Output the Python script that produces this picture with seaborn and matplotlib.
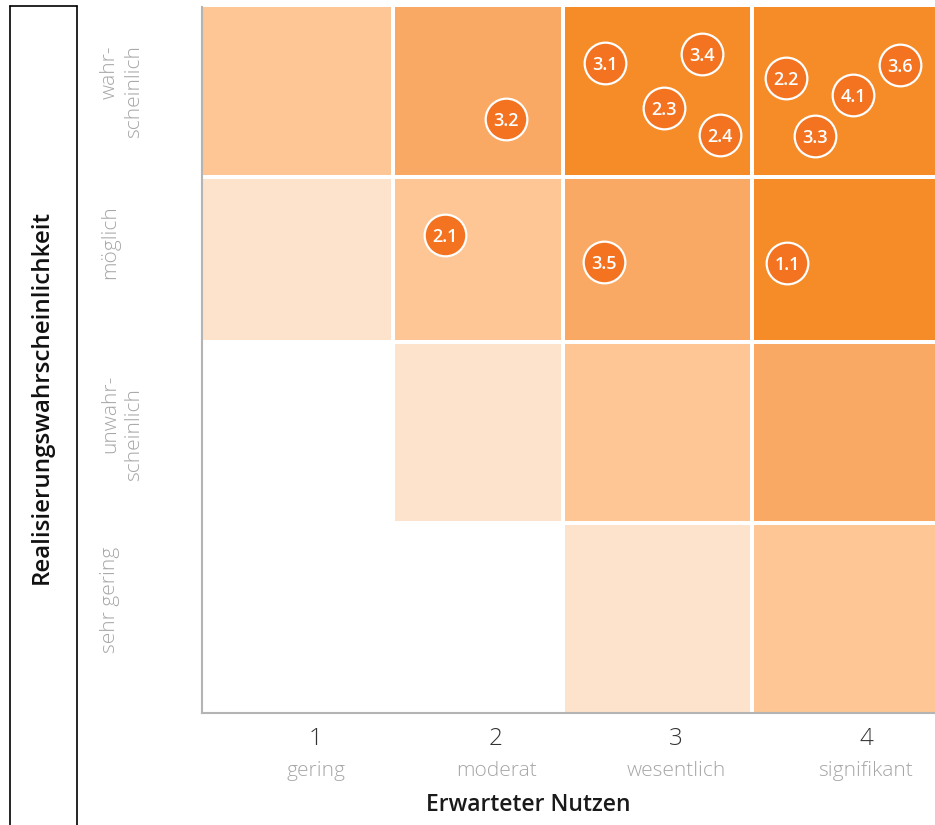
#!/usr/bin/env python3

import numpy as np
import pandas as pd
import matplotlib.pyplot as plt
from matplotlib.colors import ListedColormap
from matplotlib.lines import Line2D
import seaborn as sns

# x: erwarteter Nutzen, y: Realisierungswahrscheinlichkeit
nutzen_nummern = ['1', '2', '3', '4']
nutzen_labels = ['gering', 'moderat', 'wesentlich', 'signifikant']
wahrsch_labels = [['sehr gering'], ['unwahr-', 'scheinlich'], ['möglich'],
                  ['wahr-', 'scheinlich']]

# Farbstufe je Zelle, Zeilen von unten (sehr gering) nach oben (wahrscheinlich)
stufen = [
    [0, 0, 1, 2],
    [0, 1, 2, 3],
    [1, 2, 3, 4],
    [2, 3, 4, 4],
]

# Maßnahmen und ihre Lage im Raster
massnahmen = ['3.2', '3.1', '3.4', '2.3', '2.4', '2.2', '4.1', '3.6', '3.3',
              '2.1', '3.5', '1.1']
massnahme_x = [304, 403, 500, 462, 518, 584, 651, 698, 613, 243, 402, 585]
massnahme_y = [594, 650, 659, 605, 578, 635, 618, 648, 577, 478, 451, 450]

farben = ['#ffffff', '#fee3cc', '#fec694', '#f9a963', '#f68c28']
kreis_farbe = '#f37321'

# Layout (Rasterkanten in Achseneinheiten, äußere Kanten etwas über den Rand)
spalten_kanten = [-6, 191, 361, 550, 745]
zeilen_kanten = [-6, 190, 371, 536, 716]
x_bereich = (0, 733)
y_bereich = (0, 706)
tick_x = [114, 294, 474, 664]


def plot_matrix():
    sns.set_theme(style='white')
    plt.rcParams['font.family'] = ['Open Sans', 'DejaVu Sans']

    W, H = 935, 825
    fig = plt.figure(figsize=(W / 100, H / 100), dpi=100)
    ax = fig.add_axes([202 / W, (H - 713) / H, 733 / W, 706 / H])

    ax.pcolormesh(spalten_kanten, zeilen_kanten, np.array(stufen),
                  cmap=ListedColormap(farben), vmin=-0.5, vmax=4.5,
                  edgecolors='white', linewidth=1.5)

    df = pd.DataFrame({'id': massnahmen, 'x': massnahme_x, 'y': massnahme_y})
    sns.scatterplot(data=df, x='x', y='y', s=900, color=kreis_farbe,
                    edgecolor='white', linewidth=1.6, ax=ax, zorder=3,
                    legend=False)
    for _, r in df.iterrows():
        ax.text(r['x'], r['y'], r['id'], color='white', fontsize=13,
                fontweight='semibold', ha='center', va='center_baseline',
                zorder=4)

    ax.set_xlim(*x_bereich)
    ax.set_ylim(*y_bereich)
    ax.set(xlabel='', ylabel='')
    ax.set_xticks([])
    ax.set_yticks([])
    for s in ['top', 'right']:
        ax.spines[s].set_visible(False)
    for s in ['left', 'bottom']:
        ax.spines[s].set_color('#b4b4b4')
        ax.spines[s].set_linewidth(1.5)
        ax.spines[s].set_zorder(5)

    # Achsenbeschriftung unten
    for xp, num, lab in zip(tick_x, nutzen_nummern, nutzen_labels):
        ax.annotate(num, (xp, 0), xycoords=('data', 'axes fraction'),
                    xytext=(0, -26), textcoords='offset pixels',
                    ha='center', va='center', fontsize=17.5,
                    fontweight='light', color='#333333')
        ax.annotate(lab, (xp, 0), xycoords=('data', 'axes fraction'),
                    xytext=(0, -58), textcoords='offset pixels',
                    ha='center', va='center', fontsize=15,
                    fontweight='light', color='#a6a6a6')
    fig.text(528 / W, 1 - 805 / H, 'Erwarteter Nutzen', ha='center',
             va='center', fontsize=16.5, fontweight='semibold',
             color='#1a1a1a')

    # Zeilenbeschriftung links
    zeilen_oben = [[547], [375, 388], [205], [45, 45]]
    zeilen_x = [110, 134]
    for texte, tops in zip(wahrsch_labels, zeilen_oben):
        for i, (t, top) in enumerate(zip(texte, tops)):
            fig.text(zeilen_x[i] / W, 1 - top / H, t, rotation=90,
                     ha='center', va='top', fontsize=15,
                     fontweight='light', color='#a6a6a6')

    fig.text(42 / W, 1 - 397 / H, 'Realisierungswahrscheinlichkeit',
             rotation=90, ha='center', va='center', fontsize=17.4,
             fontweight='semibold', color='#111111')

    # Rahmen um den Titel links
    for xs, ys in [([10, 10], [6, H]), ([77, 77], [6, H]),
                   ([10, 77], [6, 6])]:
        fig.add_artist(Line2D([x / W for x in xs], [1 - y / H for y in ys],
                              color='black', linewidth=1.2))

    fig.savefig('out.png', dpi=100)


def main():
    plot_matrix()


if __name__ == '__main__':
    main()
